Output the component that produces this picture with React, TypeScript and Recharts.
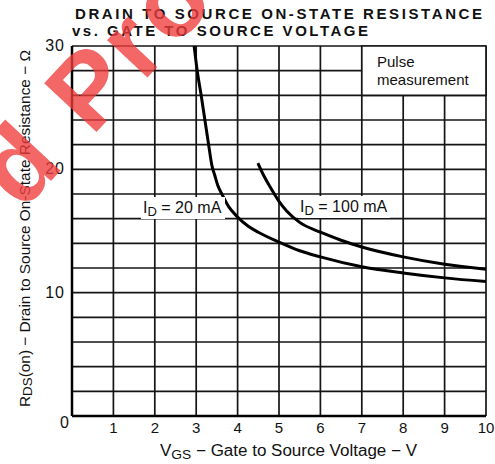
import React from "react";
import { LineChart, Line, XAxis, YAxis, CartesianGrid, ReferenceArea } from "recharts";

const vgs20 = [2.95, 3.02, 3.12, 3.21, 3.3, 3.38, 3.45, 3.52, 3.62, 3.78, 3.98, 4.25, 4.5, 5, 5.5, 6, 7, 8, 9, 10];
const r20 = [30, 28.1, 26, 24, 22, 20.3, 19.5, 18.7, 18, 17, 16.2, 15.4, 14.9, 14.1, 13.4, 12.9, 12.1, 11.6, 11.2, 10.9];
const vgs100 = [4.49, 4.6, 4.78, 5, 5.19, 5.5, 6, 6.5, 7, 8, 9, 10];
const r100 = [20.5, 19.7, 18.6, 17.4, 16.6, 15.7, 14.9, 14.25, 13.7, 12.9, 12.3, 11.9];

const xTicks = [0, 1, 2, 3, 4, 5, 6, 7, 8, 9, 10];
const yTicks = [0, 2, 4, 6, 8, 10, 12, 14, 16, 18, 20, 22, 24, 26, 28, 30];
const yLabeled = [0, 10, 20, 30];

const series20 = vgs20.map((v, i) => ({ v, r: r20[i] }));
const series100 = vgs100.map((v, i) => ({ v, r: r100[i] }));

const FONT = "'Liberation Sans', Arial, sans-serif";

const XTick = (props: any) => {
  const { x, payload } = props;
  if (payload.value === 0) return null;
  return (
    <text x={x} y={433} textAnchor="middle" fontSize={15} fontFamily={FONT} fill="#111">
      {payload.value}
    </text>
  );
};

const YTick = (props: any) => {
  const { y, payload } = props;
  if (!yLabeled.includes(payload.value)) return null;
  const isZero = payload.value === 0;
  return (
    <text x={isZero ? 70 : 65} y={y + (isZero ? 12 : 5)} textAnchor="end" fontSize={16} fontFamily={FONT} fill="#111" letterSpacing={1}>
      {payload.value}
    </text>
  );
};

export default function App() {
  return (
    <div style={{ position: "absolute", left: 0, top: 0, width: 495, height: 464, background: "#fff", overflow: "hidden" }}>
      <LineChart width={495} height={464} margin={{ top: 46, right: 9, left: 0, bottom: 0 }}>
        <CartesianGrid stroke="#151515" strokeWidth={1.7} />
        <XAxis
          type="number"
          dataKey="v"
          domain={[0, 10]}
          ticks={xTicks}
          height={48}
          axisLine={{ stroke: "#000", strokeWidth: 2.5 }}
          tickLine={false}
          tick={<XTick />}
          allowDataOverflow
        />
        <YAxis
          type="number"
          dataKey="r"
          domain={[0, 30]}
          ticks={yTicks}
          width={72}
          axisLine={{ stroke: "#000", strokeWidth: 2.5 }}
          tickLine={false}
          tick={<YTick />}
          interval={0}
          allowDataOverflow
        />
        <ReferenceArea x1={7} x2={10} y1={26} y2={30} fill="#fff" fillOpacity={1} stroke="#151515" strokeWidth={1.7} />
        <Line data={series20} dataKey="r" type="monotone" stroke="#000" strokeWidth={3} dot={false} isAnimationActive={false} />
        <Line data={series100} dataKey="r" type="monotone" stroke="#000" strokeWidth={3} dot={false} isAnimationActive={false} />
      </LineChart>
      <svg width={495} height={464} style={{ position: "absolute", left: 0, top: 0, pointerEvents: "none" }}>
        <g fontFamily={FONT} fill="#111">
          <text x={75} y={19} fontSize={15} fontWeight="bold" textLength={407} lengthAdjust="spacing">DRAIN TO SOURCE ON-STATE RESISTANCE</text>
          <text x={72} y={36} fontSize={15} fontWeight="bold" textLength={296} lengthAdjust="spacing">vs. GATE TO SOURCE VOLTAGE</text>

          <text x={377} y={67} fontSize={15}>Pulse</text>
          <text x={377} y={85} fontSize={15}>measurement</text>

          <rect x={141} y={197} width={84} height={22} fill="#fff" />
          <text x={143} y={213} fontSize={16}>
            I<tspan fontSize={13} dy={3}>D</tspan><tspan dy={-3}> = 20 mA</tspan>
          </text>
          <rect x={298} y={196} width={92} height={22} fill="#fff" />
          <text x={300} y={212} fontSize={16}>
            I<tspan fontSize={13} dy={3}>D</tspan><tspan dy={-3}> = 100 mA</tspan>
          </text>

          <text x={160} y={456} fontSize={16} textLength={257} lengthAdjust="spacingAndGlyphs">
            V<tspan fontSize={13} dy={3}>GS</tspan><tspan dy={-3}> − Gate to Source Voltage − V</tspan>
          </text>

          <text transform="translate(30,407) rotate(-90)" x={0} y={0} fontSize={15} textLength={357} lengthAdjust="spacingAndGlyphs">
            R<tspan fontSize={13} dy={2}>DS</tspan><tspan dy={-2}>(on) − Drain to Source On-State Resistance − Ω</tspan>
          </text>
        </g>
        <text
          transform="translate(22,212) rotate(-47)"
          x={0}
          y={0}
          fontSize={104}
          fontWeight="bold"
          letterSpacing={5}
          fontFamily={FONT}
          fill="#f03c3c"
          fillOpacity={0.78}
        >
          d Prod
        </text>
      </svg>
    </div>
  );
}
